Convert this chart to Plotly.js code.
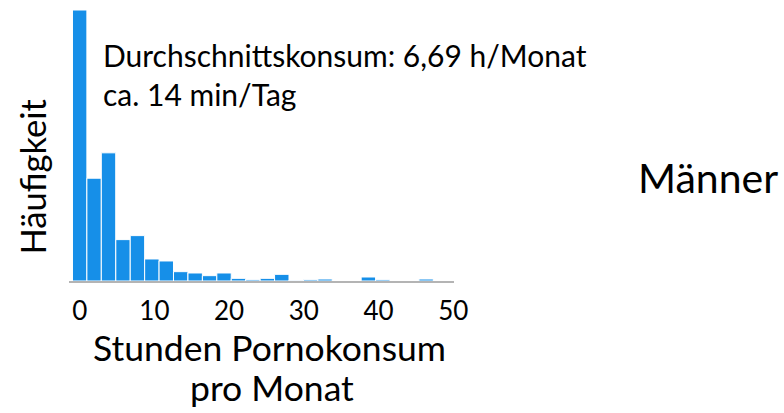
<!DOCTYPE html>
<html>
<head>
<meta charset="utf-8">
<script src="https://cdn.plot.ly/plotly-3.0.1.min.js"></script>
<style>html,body{margin:0;padding:0;background:#fff;}#chart{width:784px;height:413px;}</style>
</head>
<body>
<div id="chart"></div>
<script>
// Bin centres (hours per month) and counts
const binCenters = [0, 1.93, 3.86, 5.8, 7.73, 9.66, 11.59, 13.52, 15.46, 17.39, 19.32, 21.25, 23.18, 25.12, 27.05, 28.98, 30.91, 32.84, 34.78, 36.71, 38.64, 40.57, 42.5, 44.44, 46.37, 48.3];
const counts = [406, 154, 192, 62, 68, 33, 30, 14, 12, 8, 12, 4, 2, 4, 10, 1, 2, 3, 0, 0, 6, 2, 0, 0, 3, 0];
const binWidth = 1.93;
const tickValues = [0, 10, 20, 30, 40, 50];
const tickLabels = ["0", "10", "20", "30", "40", "50"];
const xTitleLines = ["Stunden Pornokonsum", "pro Monat"];
const yTitle = "Häufigkeit";
const noteText = "Durchschnittskonsum: 6,69 h/Monat<br>ca. 14 min/Tag";
const groupLabel = "Männer";

const FONT = "Lato, Carlito, Calibri, sans-serif";

const W = 784, H = 413;
const M = {l: 69, r: 330, t: 10, b: 132};
const plotW = W - M.l - M.r, plotH = H - M.t - M.b;
const px = x => (x - M.l) / plotW;
const py = y => (H - M.b - y) / plotH;

const trace = {
  type: "bar",
  x: binCenters,
  y: counts,
  width: binCenters.map(() => binWidth),
  marker: {color: "#168fe8", line: {color: "#ffffff", width: 1}},
  hoverinfo: "x+y"
};

const layout = {
  width: W, height: H,
  margin: M,
  paper_bgcolor: "#ffffff", plot_bgcolor: "#ffffff",
  showlegend: false,
  bargap: 0,
  xaxis: {
    range: [-1.43, 50.1],
    tickvals: tickValues, ticktext: tickLabels,
    showgrid: false, zeroline: false,
    showline: true, linecolor: "#b4b4b4", linewidth: 2,
    ticks: "outside", ticklen: 6, tickcolor: "rgba(0,0,0,0)",
    tickfont: {family: FONT, size: 26, color: "#000"}
  },
  yaxis: {
    range: [0, 406],
    showgrid: false, zeroline: false, showline: false,
    showticklabels: false, ticks: ""
  },
  annotations: [
    {text: yTitle, xref: "paper", yref: "paper", x: px(32), y: py(176.5), xanchor: "center", yanchor: "middle",
     textangle: -90, showarrow: false, font: {family: FONT, size: 34.5, color: "#000"}},
    {text: xTitleLines[0], xref: "paper", yref: "paper", x: px(269), y: py(347), xanchor: "center", yanchor: "middle",
     showarrow: false, font: {family: FONT, size: 35.5, color: "#000"}},
    {text: xTitleLines[1], xref: "paper", yref: "paper", x: px(272), y: py(387), xanchor: "center", yanchor: "middle",
     showarrow: false, font: {family: FONT, size: 35.5, color: "#000"}},
    {text: noteText, xref: "paper", yref: "paper", x: px(101), y: py(75), xanchor: "left", yanchor: "middle",
     showarrow: false, align: "left", font: {family: FONT, size: 30, color: "#000"}},
    {text: groupLabel, xref: "paper", yref: "paper", x: px(636), y: py(177), xanchor: "left", yanchor: "middle",
     showarrow: false, font: {family: FONT, size: 41, color: "#000"}}
  ]
};

Plotly.newPlot("chart", [trace], layout, {displayModeBar: false, staticPlot: true});
</script>
</body>
</html>
